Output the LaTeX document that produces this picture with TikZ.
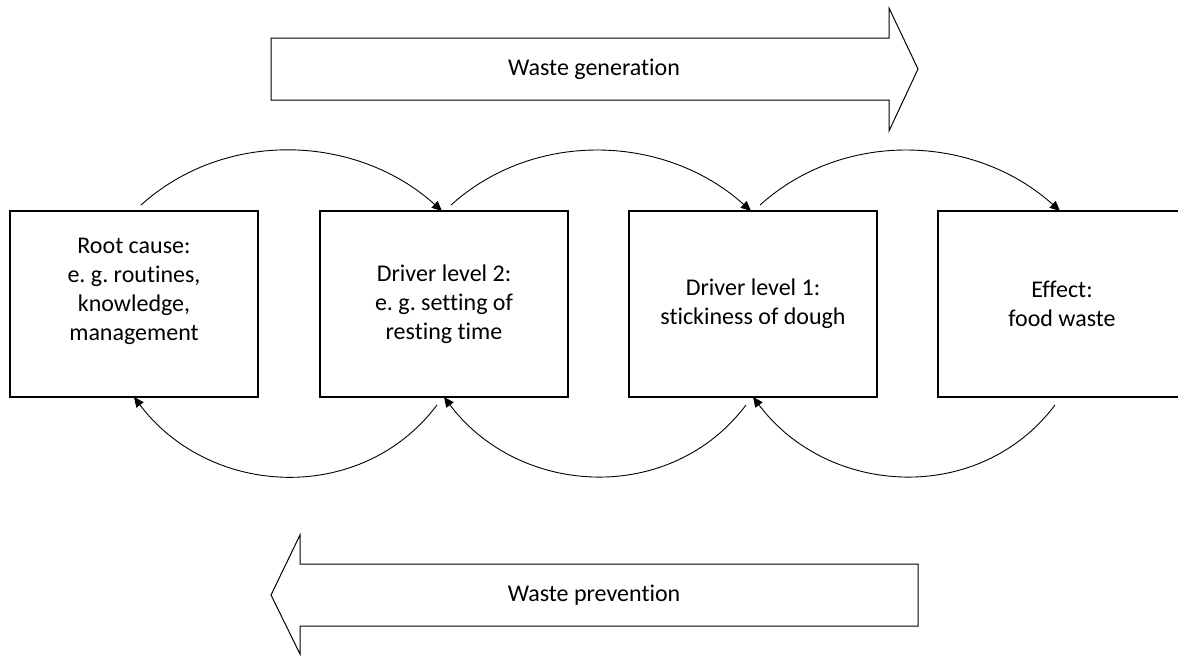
\documentclass[tikz,border=0pt]{standalone}
\usepackage{fontspec}
\setmainfont[Ligatures=NoCommon]{Carlito}
\frenchspacing
\usetikzlibrary{arrows.meta}
\begin{document}
\begin{tikzpicture}[x=0.5pt,y=-0.5pt,
  box/.style={draw,line width=0.6pt,minimum width=124pt,minimum height=93pt,outer sep=0pt,inner sep=0pt},
  txt/.style={align=center,font=\fontsize{12}{14.5}\selectfont,inner sep=0pt},
  conn/.style={line width=0.45pt,-{Triangle[length=5pt,width=4.5pt]}},
  bigarrow/.style={draw,line width=0.5pt,line join=miter}]
\useasboundingbox (0,0) rectangle (1178,655);
\clip (0,0) rectangle (1178,655);
% big arrows
\draw[bigarrow] (271,38) -- (889,38) -- (889,8) -- (918,69) -- (889,131) -- (889,100) -- (271,100) -- cycle;
\node[txt] (gen) at (594,69) {Waste generation};
\draw[bigarrow] (918,564) -- (300,564) -- (300,535) -- (271,595) -- (300,654) -- (300,626) -- (918,626) -- cycle;
\node[txt] (prev) at (594,595) {Waste prevention};
% boxes
\node[box] (b1) at (134,304) {};
\node[box] (b2) at (444,304) {};
\node[box] (b3) at (753,304) {};
\node[box] (b4) at (1062,304) {};
\node[txt] (t1) at ([yshift=6.5pt]b1.center) {Root cause:\\e. g. routines,\\knowledge,\\management};
\node[txt] (t2) at (b2.center) {Driver level 2:\\e. g. setting of\\resting time};
\node[txt] (t3) at (b3.center) {Driver level 1:\\stickiness of dough};
\node[txt] (t4) at (b4.center) {Effect:\\food waste};
% top arcs
\draw[conn] ([xshift=3.5pt,yshift=3pt]b1.north) to[out=42,in=138,looseness=0.97] ([xshift=-1pt]b2.north);
\draw[conn] ([xshift=3.5pt,yshift=3pt]b2.north) to[out=42,in=138,looseness=0.97] ([xshift=-1pt]b3.north);
\draw[conn] ([xshift=3.5pt,yshift=3pt]b3.north) to[out=42,in=138,looseness=0.97] ([xshift=-1pt]b4.north);
% bottom arcs
\draw[conn] ([xshift=-3.5pt,yshift=-4pt]b2.south) to[out=-127,in=-53,looseness=1.06] (b1.south);
\draw[conn] ([xshift=-3.5pt,yshift=-4pt]b3.south) to[out=-127,in=-53,looseness=1.06] (b2.south);
\draw[conn] ([xshift=-3.5pt,yshift=-4pt]b4.south) to[out=-127,in=-53,looseness=1.06] (b3.south);
\end{tikzpicture}
\end{document}
